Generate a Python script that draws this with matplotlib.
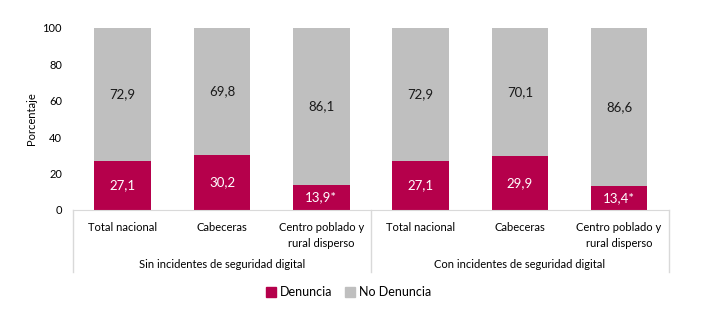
import numpy as np
import matplotlib
matplotlib.use('Agg')
import matplotlib.pyplot as plt
from matplotlib.patches import Patch

plt.rcParams['font.family'] = ['Lato', 'DejaVu Sans']

categories = ['Total nacional', 'Cabeceras', 'Centro poblado y\nrural disperso',
              'Total nacional', 'Cabeceras', 'Centro poblado y\nrural disperso']
groups = ['Sin incidentes de seguridad digital', 'Con incidentes de seguridad digital']
denuncia = [27.1, 30.2, 13.9, 27.1, 29.9, 13.4]
no_denuncia = [72.9, 69.8, 86.1, 72.9, 70.1, 86.6]
den_labels = ['27,1', '30,2', '13,9*', '27,1', '29,9', '13,4*']
noden_labels = ['72,9', '69,8', '86,1', '72,9', '70,1', '86,6']

red = '#B5004B'
gray = '#BFBFBF'

fig = plt.figure(figsize=(7.16, 3.24), dpi=100)
ax = fig.add_axes([0.102, 0.352, 0.832, 0.562])

x = np.arange(len(categories))
w = 0.57
ax.bar(x, denuncia, width=w, color=red, label='Denuncia')
ax.bar(x, no_denuncia, bottom=denuncia, width=w, color=gray, label='No Denuncia')

for i in range(len(x)):
    ax.text(x[i], denuncia[i] / 2, den_labels[i], ha='center', va='center',
            color='white', fontsize=9.5)
    ax.text(x[i], denuncia[i] + no_denuncia[i] / 2, noden_labels[i], ha='center',
            va='center', color='#1a1a1a', fontsize=9.5)

ax.set_xlim(-0.5, len(x) - 0.5)
ax.set_ylim(0, 100)
ax.set_yticks([0, 20, 40, 60, 80, 100])
ax.tick_params(axis='y', length=0, labelsize=8, pad=8)
ax.tick_params(axis='x', length=0, labelsize=8, pad=9)
ax.set_xticks(x)
ax.set_xticklabels(categories, linespacing=1.45)
for spine in ['top', 'right', 'left']:
    ax.spines[spine].set_visible(False)
ax.spines['bottom'].set_color('#D9D9D9')
ax.set_ylabel('Porcentaje', fontsize=8, labelpad=4)

# group separators and labels
trans = ax.get_xaxis_transform()
for xs in [-0.5, 2.5, 5.5]:
    ax.plot([xs, xs], [0, -0.34], color='#D9D9D9', lw=1, transform=trans, clip_on=False)
for g, xc in zip(groups, [1, 4]):
    ax.text(xc, -0.30, g, ha='center', va='center', fontsize=8, transform=trans)

handles = [Patch(color=red, label='Denuncia'), Patch(color=gray, label='No Denuncia')]
fig.legend(handles=handles, loc='center', bbox_to_anchor=(0.487, 0.098), ncol=2,
           frameon=False, fontsize=9, handlelength=0.8, handleheight=0.8,
           handletextpad=0.3, columnspacing=1.0)

fig.savefig('out.png', dpi=100)
